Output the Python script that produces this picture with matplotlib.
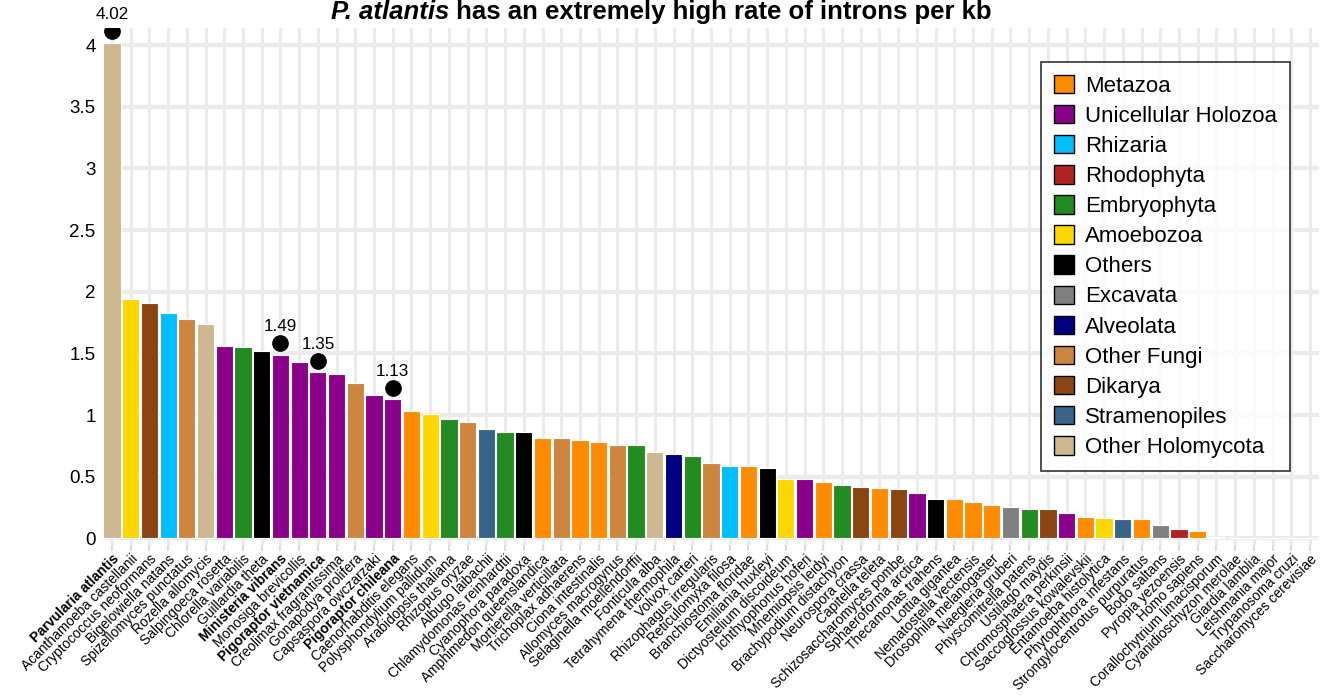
import numpy as np
import matplotlib
matplotlib.use('Agg')
import matplotlib.pyplot as plt
from matplotlib.patches import Patch

plt.rcParams['font.family'] = ['Liberation Sans', 'DejaVu Sans']

species = ['Parvularia atlantis', 'Acanthamoeba castellanii', 'Cryptococcus neoformans',
           'Bigelowiella natans', 'Spizellomyces punctatus', 'Rozella allomycis',
           'Salpingoeca rosetta', 'Chlorella variabilis', 'Guillardia theta',
           'Ministeria vibrans', 'Monosiga brevicollis', 'Pigoraptor vietnamica',
           'Creolimax fragrantissima', 'Gonapodya prolifera', 'Capsaspora owczarzaki',
           'Pigoraptor chileana', 'Caenorhabditis elegans', 'Polysphondylium pallidum',
           'Arabidopsis thaliana', 'Rhizopus oryzae', 'Albugo laibachii',
           'Chlamydomonas reinhardtii', 'Cyanophora paradoxa', 'Amphimedon queenslandica',
           'Mortierella verticillata', 'Trichoplax adhaerens', 'Ciona intestinalis',
           'Allomyces macrogynus', 'Selaginella moellendorffii', 'Fonticula alba',
           'Tetrahymena thermophila', 'Volvox carteri', 'Rhizophagus irregularis',
           'Reticulomyxa filosa', 'Branchiostoma floridae', 'Emiliania huxleyi',
           'Dictyostelium discoideum', 'Ichthyophonus hoferi', 'Mnemiopsis leidyi',
           'Brachypodium distachyon', 'Neurospora crassa', 'Capitella teleta',
           'Schizosaccharomyces pombe', 'Sphaeroforma arctica', 'Thecamonas trahens',
           'Lottia gigantea', 'Nematostella vectensis', 'Drosophila melanogaster',
           'Naegleria gruberi', 'Physcomitrella patens', 'Ustilago maydis',
           'Chromosphaera perkinsii', 'Saccoglossus kowalevskii', 'Entamoeba histolytica',
           'Phytophthora infestans', 'Strongylocentrotus purpuratus', 'Bodo saltans',
           'Pyropia yezoensis', 'Homo sapiens', 'Corallochytrium limacisporum',
           'Cyanidioschyzon merolae', 'Giardia lamblia', 'Leishmania major',
           'Trypanosoma cruzi', 'Saccharomyces cerevisiae']

introns_per_kb = [4.02, 1.94, 1.91, 1.83, 1.78, 1.74,
                  1.56, 1.55, 1.52, 1.49, 1.43, 1.35,
                  1.33, 1.26, 1.16, 1.13, 1.03, 1.01,
                  0.97, 0.94, 0.89, 0.865, 0.86, 0.815,
                  0.81, 0.80, 0.78, 0.76, 0.76, 0.70,
                  0.68, 0.67, 0.61, 0.59, 0.585, 0.57,
                  0.485, 0.483, 0.46, 0.435, 0.415, 0.41,
                  0.40, 0.37, 0.32, 0.32, 0.296, 0.274,
                  0.256, 0.242, 0.24, 0.207, 0.172, 0.169,
                  0.16, 0.153, 0.107, 0.077, 0.061, 0.012,
                  0.003, 0, 0, 0, 0]

group = ['Other Holomycota', 'Amoebozoa', 'Dikarya', 'Rhizaria', 'Other Fungi', 'Other Holomycota',
         'Unicellular Holozoa', 'Embryophyta', 'Others', 'Unicellular Holozoa',
         'Unicellular Holozoa', 'Unicellular Holozoa', 'Unicellular Holozoa', 'Other Fungi',
         'Unicellular Holozoa', 'Unicellular Holozoa', 'Metazoa', 'Amoebozoa',
         'Embryophyta', 'Other Fungi', 'Stramenopiles', 'Embryophyta', 'Others', 'Metazoa',
         'Other Fungi', 'Metazoa', 'Metazoa', 'Other Fungi', 'Embryophyta', 'Other Holomycota',
         'Alveolata', 'Embryophyta', 'Other Fungi', 'Rhizaria', 'Metazoa', 'Others',
         'Amoebozoa', 'Unicellular Holozoa', 'Metazoa', 'Embryophyta', 'Dikarya', 'Metazoa',
         'Dikarya', 'Unicellular Holozoa', 'Others', 'Metazoa', 'Metazoa', 'Metazoa',
         'Excavata', 'Embryophyta', 'Dikarya', 'Unicellular Holozoa', 'Metazoa', 'Amoebozoa',
         'Stramenopiles', 'Metazoa', 'Excavata', 'Rhodophyta', 'Metazoa', 'Unicellular Holozoa',
         'Rhodophyta', 'Excavata', 'Excavata', 'Excavata', 'Dikarya']

legend_groups = ['Metazoa', 'Unicellular Holozoa', 'Rhizaria', 'Rhodophyta', 'Embryophyta',
                 'Amoebozoa', 'Others', 'Excavata', 'Alveolata', 'Other Fungi', 'Dikarya',
                 'Stramenopiles', 'Other Holomycota']
group_colors = ['#FF8C00', '#8B008B', '#00BFFF', '#B22222', '#228B22',
                '#FFD700', '#000000', '#808080', '#000080', '#CD853F', '#8B4513',
                '#36648B', '#CDB891']

highlight = ['Parvularia atlantis', 'Ministeria vibrans', 'Pigoraptor vietnamica', 'Pigoraptor chileana']

cmap = dict(zip(legend_groups, group_colors))
x = np.arange(len(species))
vals = np.array(introns_per_kb)

fig = plt.figure(figsize=(13.24, 6.95), dpi=100)
ax = fig.add_axes([0.0775, 0.216, 0.919, 0.744])

ax.set_xlim(-0.5, len(species) - 0.5)
ax.set_ylim(-0.053, 4.14)
ax.set_yticks(np.arange(0, 4.01, 0.5))
ax.set_yticklabels(['0', '0.5', '1', '1.5', '2', '2.5', '3', '3.5', '4'], fontsize=13.5)
ax.set_xticks(x)
ax.set_xticklabels(species, rotation=45, ha='right', rotation_mode='anchor', fontsize=9.9)
for lab in ax.get_xticklabels():
    if lab.get_text() in highlight:
        lab.set_fontweight('bold')

ax.grid(True, axis='y', color='#EBEBEB', linewidth=3)
ax.grid(True, axis='x', color='#EBEBEB', linewidth=2.2)
ax.set_axisbelow(True)
for s in ax.spines.values():
    s.set_visible(False)
ax.tick_params(axis='y', length=0, pad=5)
ax.tick_params(axis='x', length=4, width=1.5, color='#DDDDDD', pad=1)

ax.bar(x, vals, width=0.92, color=[cmap[g] for g in group], edgecolor='white', linewidth=0.8, zorder=2)

# dots + numbers over the highlighted species
for name in highlight:
    i = species.index(name)
    v = vals[i]
    ax.plot(i, v + 0.09, 'o', color='black', markersize=11, zorder=3)
    ax.text(i, v + 0.225, '%.2f' % v, ha='center', va='center', fontsize=12.3, zorder=3)

handles = [Patch(facecolor=c, edgecolor='black', linewidth=1) for c in group_colors]
leg = fig.legend(handles, legend_groups, loc='upper right', bbox_to_anchor=(0.974, 0.911),
                 fontsize=16, frameon=True, fancybox=False, edgecolor='black',
                 handlelength=0.9, handleheight=0.9, handletextpad=0.5,
                 labelspacing=0.37, borderpad=0.58, borderaxespad=0)
leg.get_frame().set_linewidth(1.2)

t1 = fig.text(0.25, 0.973, 'P. atlantis', fontsize=18.5, fontweight='bold', fontstyle='italic',
              ha='left', va='baseline')
ax.annotate(' has an extremely high rate of introns per kb', xy=(1, 0), xycoords=t1,
            fontsize=18.5, fontweight='bold', ha='left', va='bottom', annotation_clip=False)

fig.savefig('out.png', dpi=100)
